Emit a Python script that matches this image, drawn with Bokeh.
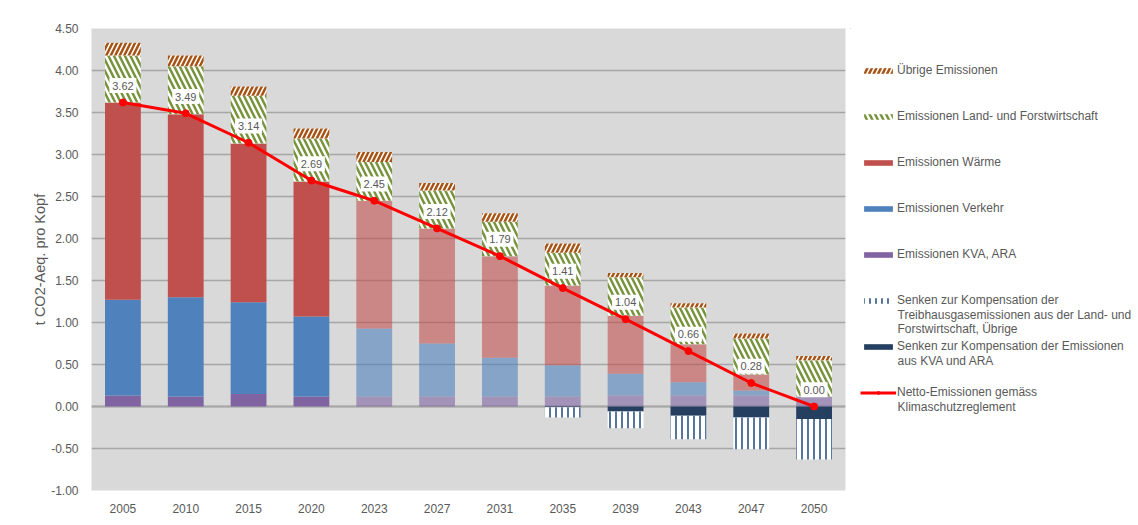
import numpy as np
from bokeh.plotting import figure
from bokeh.layouts import row
from bokeh.models import (ColumnDataSource, FactorRange, Range1d, Legend, LegendItem,
                          Label, NumeralTickFormatter, SingleIntervalTicker, Span)
from bokeh.core.properties import value
from bokeh.embed import file_html
from bokeh.resources import INLINE

# ---------------- data ----------------
years = ["2005", "2010", "2015", "2020", "2023", "2027", "2031", "2035", "2039", "2043", "2047", "2050"]
emissionen_kva = [0.13, 0.12, 0.15, 0.12, 0.12, 0.12, 0.12, 0.12, 0.13, 0.13, 0.13, 0.12]
emissionen_verkehr = [1.14, 1.18, 1.09, 0.95, 0.81, 0.63, 0.46, 0.37, 0.26, 0.16, 0.06, 0.00]
emissionen_waerme = [2.35, 2.18, 1.89, 1.61, 1.52, 1.37, 1.21, 0.95, 0.69, 0.45, 0.19, 0.00]
emissionen_land = [0.56, 0.57, 0.57, 0.51, 0.46, 0.45, 0.41, 0.39, 0.46, 0.44, 0.43, 0.43]
emissionen_uebrige = [0.15, 0.13, 0.11, 0.12, 0.12, 0.09, 0.10, 0.11, 0.05, 0.05, 0.06, 0.05]
senken_kva = [0, 0, 0, 0, 0, 0, 0, -0.01, -0.06, -0.11, -0.13, -0.15]
senken_land = [0, 0, 0, 0, 0, 0, 0, -0.12, -0.20, -0.28, -0.38, -0.48]
netto = [3.62, 3.49, 3.14, 2.69, 2.45, 2.12, 1.79, 1.41, 1.04, 0.66, 0.28, 0.00]

legend_labels = [
    ["Übrige Emissionen"],
    ["Emissionen Land- und Forstwirtschaft"],
    ["Emissionen Wärme"],
    ["Emissionen Verkehr"],
    ["Emissionen KVA, ARA"],
    ["Senken zur Kompensation der", "Treibhausgasemissionen aus der Land- und", "Forstwirtschaft, Übrige"],
    ["Senken zur Kompensation der Emissionen", "aus KVA und ARA"],
    ["Netto-Emissionen gemäss", "Klimaschutzreglement"],
]

# ---------------- styling ----------------
FONT = "Liberation Sans"
TXT = "#595959"
C_WAERME = "#C0504D"
C_VERKEHR = "#4F81BD"
C_KVA = "#8064A2"
C_LAND = "#77933C"
C_UEBRIGE = "#A65314"
C_SENKE_KVA = "#243F60"
C_SENKE_LAND = "#2E5380"
BAR_W = 0.57
H = 520
FRAME_TOP, FRAME_BOTTOM = 28, 490

land_style = dict(fill_color="white", line_color=None, hatch_pattern="left_diagonal_line",
                  hatch_color=C_LAND, hatch_weight=2.5, hatch_scale=11)
uebr_style = dict(fill_color="white", line_color=None, hatch_pattern="right_diagonal_line",
                  hatch_color=C_UEBRIGE, hatch_weight=2.5, hatch_scale=9)
sl_style = dict(fill_color="white", line_color=None, hatch_pattern="vertical_line",
                hatch_color=C_SENKE_LAND, hatch_weight=1.6, hatch_scale=6)

# historic years solid, projections lighter
alpha = [1.0 if int(y) <= 2020 else 0.6 for y in years]

# stacked positions computed from the data
arr = np.array([emissionen_kva, emissionen_verkehr, emissionen_waerme,
                emissionen_land, emissionen_uebrige], dtype=float)
tops = np.cumsum(arr, axis=0)
bottoms = tops - arr
sk = np.array(senken_kva, dtype=float)
sl = np.array(senken_land, dtype=float)
net = np.array(netto, dtype=float)

src = ColumnDataSource(dict(
    x=years, alpha=alpha,
    b0=bottoms[0], t0=tops[0], b1=bottoms[1], t1=tops[1], b2=bottoms[2], t2=tops[2],
    b3=bottoms[3], t3=tops[3], b4=bottoms[4], t4=tops[4],
    sk0=np.zeros(len(years)), sk1=sk, sl0=sk, sl1=sk + sl,
    net=net, lbl_y=net + 0.2, net_lbl=[f"{v:.2f}" for v in netto],
))

p = figure(x_range=FactorRange(*years), y_range=Range1d(-1, 4.5),
           width=850, height=H, output_backend="svg", toolbar_location=None,
           min_border_left=91, min_border_right=5, min_border_top=FRAME_TOP,
           min_border_bottom=H - FRAME_BOTTOM)
p.background_fill_color = "#D9D9D9"
p.border_fill_color = "white"
p.outline_line_color = None

p.add_layout(Span(location=0, dimension="width", line_color="#A6A6A6", line_width=2.2,
                  level="underlay"))

p.vbar(x="x", bottom="b0", top="t0", width=BAR_W, source=src, fill_color=C_KVA,
       fill_alpha="alpha", line_color=None)
p.vbar(x="x", bottom="b1", top="t1", width=BAR_W, source=src, fill_color=C_VERKEHR,
       fill_alpha="alpha", line_color=None)
p.vbar(x="x", bottom="b2", top="t2", width=BAR_W, source=src, fill_color=C_WAERME,
       fill_alpha="alpha", line_color=None)
p.vbar(x="x", bottom="b3", top="t3", width=BAR_W, source=src, **land_style)
p.vbar(x="x", bottom="b4", top="t4", width=BAR_W, source=src, **uebr_style)
p.vbar(x="x", bottom="sk1", top="sk0", width=BAR_W, source=src, fill_color=C_SENKE_KVA,
       line_color=None)
p.vbar(x="x", bottom="sl1", top="sl0", width=BAR_W, source=src, **sl_style)

p.line(x="x", y="net", source=src, line_color="#FF0000", line_width=3)
p.scatter(x="x", y="net", source=src, size=7, fill_color="#FF0000", line_color="#FF0000")

# data labels (white boxes above the net points)
p.rect(x="x", y="lbl_y", width=27, height=15, width_units="screen", height_units="screen",
       source=src, fill_color="white", line_color=None)
p.text(x="x", y="lbl_y", text="net_lbl", source=src, text_align="center",
       text_baseline="middle", text_font=value(FONT), text_font_size="11px", text_color=TXT)

# axes
p.yaxis.ticker = SingleIntervalTicker(interval=0.5)
p.yaxis.formatter = NumeralTickFormatter(format="0.00")
p.yaxis.axis_label = "t CO2-Aeq. pro Kopf"
p.yaxis.axis_label_text_font = FONT
p.yaxis.axis_label_text_font_size = "14.5px"
p.yaxis.axis_label_text_font_style = "normal"
p.yaxis.axis_label_text_color = TXT
p.yaxis.axis_label_standoff = 0
for ax in (p.xaxis[0], p.yaxis[0]):
    ax.axis_line_color = None
    ax.major_tick_line_color = None
    ax.minor_tick_line_color = None
    ax.major_label_text_font = FONT
    ax.major_label_text_font_size = "12px"
    ax.major_label_text_color = TXT
p.yaxis.major_label_standoff = 7
p.xaxis.major_label_standoff = 7
p.xgrid.grid_line_color = None
p.ygrid.grid_line_color = "#A6A6A6"
p.ygrid.grid_line_width = 1.5

# ---------------- legend panel ----------------
# the row aligns this panel's frame with the chart frame (page y 28..490),
# so the y range maps directly to page pixels
LW = 286
q = figure(x_range=Range1d(0, LW), y_range=Range1d(FRAME_BOTTOM, FRAME_TOP), width=LW, height=H,
           output_backend="svg", toolbar_location=None, title=None,
           x_axis_location=None, y_axis_location=None,
           min_border_left=0, min_border_right=0, min_border_top=0, min_border_bottom=0)
q.grid.visible = False
q.outline_line_color = None
q.background_fill_color = "white"
q.border_fill_color = "white"


def dummy_bar(**kw):
    # off-screen sample whose style is shown in the legend
    s = ColumnDataSource(dict(x=[-100], top=[1], bottom=[0]))
    return q.vbar(source=s, x="x", top="top", bottom="bottom", width=1, **kw)


g_uebr = dummy_bar(**uebr_style)
g_land = dummy_bar(**land_style)
g_waer = dummy_bar(fill_color=C_WAERME, line_color=None)
g_verk = dummy_bar(fill_color=C_VERKEHR, line_color=None)
g_kva = dummy_bar(fill_color=C_KVA, line_color=None)
g_sl = dummy_bar(**sl_style)
g_sk = dummy_bar(fill_color=C_SENKE_KVA, line_color=None)
ln = ColumnDataSource(dict(x=[-100, -90], y=[0, 0]))
g_line = q.line(source=ln, x="x", y="y", line_color="#FF0000", line_width=3)
g_pts = q.scatter(source=ln, x="x", y="y", size=6, fill_color="#FF0000", line_color="#FF0000")

glyphs = [[g_uebr], [g_land], [g_waer], [g_verk], [g_kva], [g_sl], [g_sk], [g_line, g_pts]]
items = [LegendItem(label=lab[0], renderers=r, index=0) for lab, r in zip(legend_labels, glyphs)]

ITEM_H = 14
SPACING = 32
TOP = 63
n = len(items)
leg_h = n * ITEM_H + (n - 1) * SPACING
legend = Legend(items=items, location=(10, FRAME_BOTTOM - TOP - leg_h), orientation="vertical",
                glyph_width=36, glyph_height=7, label_height=ITEM_H, label_standoff=1,
                spacing=SPACING, padding=0, margin=0, border_line_color=None,
                background_fill_alpha=0, label_text_font=FONT, label_text_font_size="12px",
                label_text_color=TXT)
q.add_layout(legend, "center")

# continuation lines of the wrapped legend labels
for i, lab in enumerate(legend_labels):
    for j, extra in enumerate(lab[1:], start=1):
        q.add_layout(Label(x=47, y=TOP + ITEM_H / 2 + i * (ITEM_H + SPACING) + j * 14,
                           text=extra, text_font=FONT, text_font_size="12px", text_color=TXT,
                           text_baseline="middle", text_align="left"))

layout = row(p, q)
open("out.html", "w").write(file_html(layout, INLINE))
